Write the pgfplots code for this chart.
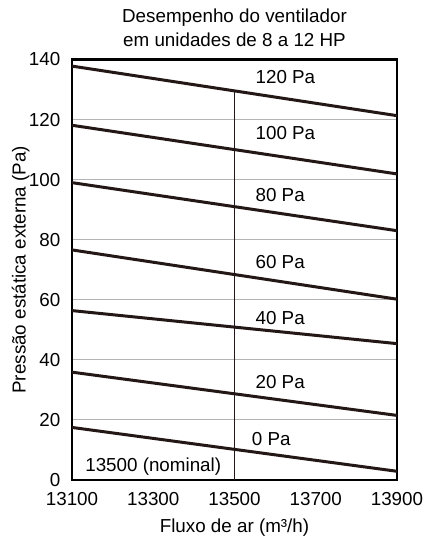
\documentclass[border=0pt]{standalone}
\usepackage{pgfplots}
\pgfplotsset{compat=1.18}
\usepackage{fontspec}
\setmainfont{Liberation Sans}
\definecolor{curve}{HTML}{231815}
\definecolor{gridc}{HTML}{B4B4B4}
\begin{document}
\begin{tikzpicture}
\fontsize{9.4bp}{11bp}\selectfont
\begin{axis}[
  at={(0,0)}, anchor=south west,
  scale only axis,
  width=162.5bp, height=210.25bp,
  xmin=13100, xmax=13900, ymin=0, ymax=140,
  xtick={13100,13300,13500,13700,13900},
  ytick={0,20,40,60,80,100,120,140},
  /pgf/number format/assume math mode=true,
  xticklabel style={/pgf/number format/1000 sep={}, font=\fontsize{9.4bp}{11bp}\selectfont, yshift=-3bp},
  yticklabel style={font=\fontsize{9.4bp}{11bp}\selectfont, xshift=-2.5bp},
  scaled x ticks=false,
  major tick length=0pt,
  xtick pos=bottom, ytick pos=left,
  ymajorgrids, grid style={draw=gridc, line width=0.5bp},
  axis line style={line width=1.1bp, black},
  xlabel={Fluxo de ar (m³/h)},
  ylabel={Pressão estática externa (Pa)},
  xlabel style={font=\fontsize{9.4bp}{11bp}\selectfont, at={(axis description cs:0.5,-0.114)}, anchor=center},
  ylabel style={font=\fontsize{9.4bp}{11bp}\selectfont, at={(axis description cs:-0.158,0.5)}, anchor=center},
  title={Desempenho do ventilador\\em unidades de 8 a 12 HP},
  title style={font=\fontsize{9.4bp}{12bp}\selectfont, align=center, at={(axis description cs:0.5,1)}, anchor=south, yshift=-3bp},
]
\addplot[curve, line width=1.5bp] coordinates {(13100,17.5) (13900,2.9)};
\addplot[curve, line width=1.5bp] coordinates {(13100,35.9) (13900,21.5)};
\addplot[curve, line width=1.5bp] coordinates {(13100,56.4) (13900,45.4)};
\addplot[curve, line width=1.5bp] coordinates {(13100,76.6) (13900,60.2)};
\addplot[curve, line width=1.5bp] coordinates {(13100,99.0) (13900,83.0)};
\addplot[curve, line width=1.5bp] coordinates {(13100,118.1) (13900,101.9)};
\addplot[curve, line width=1.5bp] coordinates {(13100,137.8) (13900,121.3)};
\addplot[curve, line width=0.95bp] coordinates {(13500,0) (13500,129.6)};
\node[anchor=west, inner sep=0pt] at (axis cs:13551,134) {120 Pa};
\node[anchor=west, inner sep=0pt] at (axis cs:13551,115.6) {100 Pa};
\node[anchor=west, inner sep=0pt] at (axis cs:13551,95) {80 Pa};
\node[anchor=west, inner sep=0pt] at (axis cs:13551,72.7) {60 Pa};
\node[anchor=west, inner sep=0pt] at (axis cs:13551,54) {40 Pa};
\node[anchor=west, inner sep=0pt] at (axis cs:13551,32.7) {20 Pa};
\node[anchor=west, inner sep=0pt] at (axis cs:13542,13.7) {0 Pa};
\node[anchor=center, inner sep=0pt] at (axis cs:13300,4.3) {13500 (nominal)};
\end{axis}
\pgfresetboundingbox
\useasboundingbox (-36bp,-32.5bp) rectangle (180bp,240bp);
\end{tikzpicture}
\end{document}
